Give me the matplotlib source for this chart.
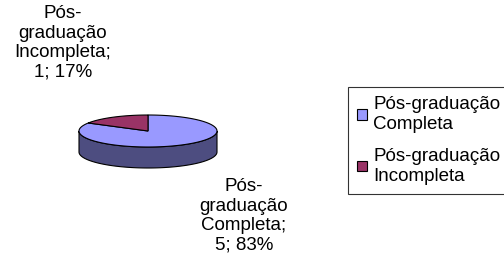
import numpy as np
import matplotlib
matplotlib.use("Agg")
import matplotlib.pyplot as plt
from matplotlib.patches import Polygon, Patch

categories = ["Pós-graduação Completa", "Pós-graduação Incompleta"]
values = [5, 1]
colors = ["#9999FF", "#993366"]
side_colors = ["#4D4D80", "#4D1A33"]

plt.rcParams["font.family"] = ["Liberation Sans", "DejaVu Sans"]

fig = plt.figure(figsize=(5.04, 2.64), dpi=100)
ax = fig.add_axes([0, 0, 1, 1])
ax.set_xlim(0, 504)
ax.set_ylim(264, 0)
ax.axis("off")

# pie geometry in pixel space
cx, cy, a, b, depth = 148, 131, 69, 16, 21


def pt(t):
    return cx + a * np.cos(t), cy - b * np.sin(t)


total = sum(values)
fracs = [v / total for v in values]

# slices go counterclockwise from 12 o'clock, Incompleta first
start = np.pi / 2
spans = {}
for i in [1, 0]:
    end = start + 2 * np.pi * fracs[i]
    spans[i] = (start, end)
    start = end

# front side wall (visible part between 180 and 360 deg)
for i in [0, 1]:
    s, e = spans[i]
    lo, hi = max(s, np.pi), min(e, 2 * np.pi)
    if lo < hi:
        t = np.linspace(lo, hi, 100)
        x, y = pt(t)
        xs = np.concatenate([x, x[::-1]])
        ys = np.concatenate([y, y[::-1] + depth])
        ax.add_patch(Polygon(np.column_stack([xs, ys]), closed=True,
                             facecolor=side_colors[i], edgecolor="black", lw=0.8))

# top faces
for i in [0, 1]:
    s, e = spans[i]
    t = np.linspace(s, e, 200)
    x, y = pt(t)
    xs = np.concatenate([[cx], x])
    ys = np.concatenate([[cy], y])
    ax.add_patch(Polygon(np.column_stack([xs, ys]), closed=True,
                         facecolor=colors[i], edgecolor="black", lw=0.8))

fs = 13.5
pct = [round(f * 100) for f in fracs]
ax.text(63, 43, "Pós-\ngraduação\nIncompleta;\n%d; %d%%" % (values[1], pct[1]),
        ha="center", va="center", fontsize=fs, linespacing=1.2)
ax.text(244, 216, "Pós-\ngraduação\nCompleta;\n%d; %d%%" % (values[0], pct[0]),
        ha="center", va="center", fontsize=fs, linespacing=1.2)

handles = [Patch(facecolor=colors[i], edgecolor="black", lw=0.8) for i in range(2)]
leg_labels = ["Pós-graduação\nCompleta", "Pós-graduação\nIncompleta"]
leg = ax.legend(handles, leg_labels, loc="upper left", bbox_to_anchor=(348 / 504, 1 - 87 / 264),
                fontsize=fs, frameon=True, fancybox=False, edgecolor="black",
                handlelength=0.5, handleheight=0.5, handletextpad=0.35,
                borderaxespad=0, borderpad=0.5, labelspacing=0.8)
leg.get_frame().set_linewidth(0.8)
for t in leg.get_texts():
    t.set_linespacing(1.2)

fig.savefig("out.png", dpi=100)
